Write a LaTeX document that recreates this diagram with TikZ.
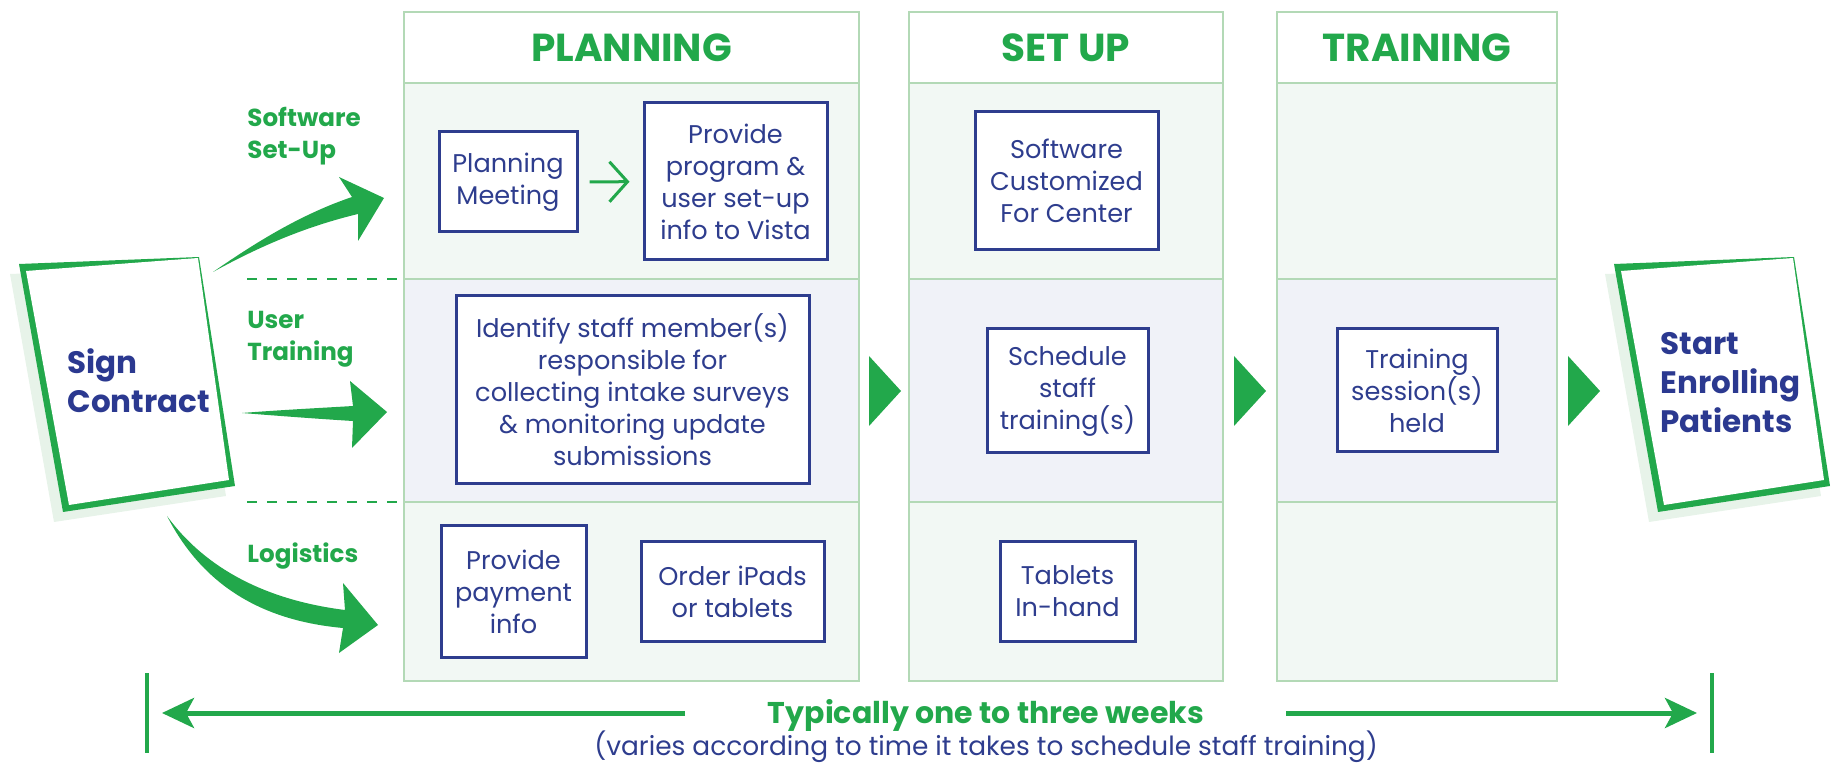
\documentclass[tikz,border=0pt]{standalone}
\usepackage{fontspec}
\setmainfont{Poppins}
\usetikzlibrary{arrows.meta}
\definecolor{grn}{HTML}{22A84B}
\definecolor{navy}{HTML}{2B3990}
\definecolor{boxblue}{HTML}{2E3D8E}
\definecolor{colline}{HTML}{B3D9B6}
\definecolor{rowg}{HTML}{F2F8F4}
\definecolor{rowb}{HTML}{F0F2F8}
\definecolor{cardshade}{HTML}{E7F3E9}
\begin{document}
\begin{tikzpicture}[x=0.5pt,y=-0.5pt,
  taskbox/.style={draw=boxblue,line width=1.5pt,fill=white,align=center,text=boxblue,
    font=\fontsize{12.8}{16}\selectfont,inner sep=0pt},
  header/.style={text=grn,font=\fontsize{19.5}{22}\selectfont\bfseries},
  lanelabel/.style={text=grn,font=\fontsize{12.3}{16}\selectfont\bfseries,align=left,anchor=base west,inner sep=0pt},
  bigtext/.style={text=navy,font=\fontsize{15.5}{19.5}\selectfont\bfseries,align=left,anchor=base west,inner sep=0pt},
  flowtri/.style={fill=grn},
  spanline/.style={grn,line width=2.5pt,-{Stealth[length=16pt,width=15pt,inset=4pt]}},
]
\useasboundingbox (0,0) rectangle (1834,763);

% columns
\foreach \l/\r in {404/859,909/1223,1277/1557}{
  \fill[white] (\l,12) rectangle (\r,83);
  \fill[rowg] (\l,83) rectangle (\r,279);
  \fill[rowb] (\l,279) rectangle (\r,502);
  \fill[rowg] (\l,502) rectangle (\r,681);
  \draw[colline,line width=1pt] (\l,12) rectangle (\r,681)
    (\l,83) -- (\r,83) (\l,279) -- (\r,279) (\l,502) -- (\r,502);
}
\node[header] (hplan) at (631.5,48) {PLANNING};
\node[header] (hset) at (1066,48) {SET UP};
\node[header] (htrain) at (1417,48) {TRAINING};

% dashed lane separators
\draw[grn,line width=1pt,dash pattern=on 5pt off 5pt] (247,279) -- (404,279);
\draw[grn,line width=1pt,dash pattern=on 5pt off 5pt] (247,502) -- (404,502);

% Sign contract card
\fill[cardshade] (10,274) -- (190,267) -- (226,496) -- (54,522) -- cycle;
\fill[grn] (19,264) -- (199,257) -- (235,486) -- (63,512) -- cycle;
\fill[white] (26,271) -- (198,258) -- (229,480) -- (69,505) -- cycle;
\node[bigtext] (sign) at (67,413) {Sign\\Contract};

% Start enrolling card
\fill[cardshade] (1605,274) -- (1785,267) -- (1821,496) -- (1649,522) -- cycle;
\fill[grn] (1614,264) -- (1794,257) -- (1830,486) -- (1658,512) -- cycle;
\fill[white] (1621,271) -- (1793,258) -- (1824,480) -- (1664,505) -- cycle;
\node[bigtext] (start) at (1660,433) {Start\\Enrolling\\Patients};

% lane labels
\node[lanelabel] (lsw) at (247,159) {Software\\Set-Up};
\node[lanelabel] (lut) at (247,361) {User\\Training};
\node[lanelabel] (llog) at (247,562) {Logistics};

% tapered arrows
\fill[grn] (213,272) .. controls (262,238) and (305,213) .. (352,197) -- (339,177) -- (384,198)
  -- (358,241) -- (358,214) .. controls (308,226) and (262,245) .. (213,272) -- cycle;
\fill[grn] (242,413) .. controls (280,410) and (320,408) .. (353,406) -- (350,381) -- (387,412)
  -- (352,448) -- (353,421) .. controls (320,419) and (280,416) .. (242,413) -- cycle;
\fill[grn] (167,516) .. controls (205,568) and (265,600) .. (345,610) -- (343,583) -- (378,625)
  -- (339,653) -- (343,628) .. controls (255,620) and (200,580) .. (167,516) -- cycle;

% task boxes
\node[taskbox,minimum width=69pt,minimum height=50pt] (pm) at (508,182) {Planning\\Meeting};
\node[taskbox,minimum width=91.5pt,minimum height=78.5pt] (pp) at (735.5,181.5) {Provide\\program \&\\user set-up\\info to Vista};
\node[taskbox,minimum width=176.5pt,minimum height=94pt] (id) at (632.5,390) {Identify staff member(s)\\responsible for\\collecting intake surveys\\\& monitoring update\\submissions};
\node[taskbox,minimum width=72.5pt,minimum height=65.5pt] (pay) at (513.5,591.5) {Provide\\payment\\info};
\node[taskbox,minimum width=91.5pt,minimum height=49.5pt] (ipad) at (732.5,591.5) {Order iPads\\or tablets};
\node[taskbox,minimum width=91.5pt,minimum height=69pt] (soft) at (1066.5,181) {Software\\Customized\\For Center};
\node[taskbox,minimum width=80.5pt,minimum height=62pt] (sched) at (1067.5,391) {Schedule\\staff\\training(s)};
\node[taskbox,minimum width=67.5pt,minimum height=49.5pt] (tab) at (1067.5,591.5) {Tablets\\In-hand};
\node[taskbox,minimum width=80pt,minimum height=61.5pt] (sess) at (1417,390.5) {Training\\session(s)\\held};

\draw[grn,line width=1.5pt,-{Straight Barb[length=9pt,width=20pt]},shorten <=5.5pt,shorten >=6.5pt] (pm) -- (pp);

% flow triangles
\fill[flowtri] (869,356) -- (901,391) -- (869,426) -- cycle;
\fill[flowtri] (1234,356) -- (1266,391) -- (1234,426) -- cycle;
\fill[flowtri] (1568,356) -- (1600,391) -- (1568,426) -- cycle;

% time span
\coordinate (lgap) at (685,713);
\coordinate (rgap) at (1286,713);
\coordinate (ltip) at (162,713);
\coordinate (rtip) at (1697,713);
\draw[grn,line width=1.6pt] (147,673) -- (147,753);
\draw[grn,line width=1.6pt] (1712,673) -- (1712,753);
\draw[spanline] (lgap) -- (ltip);
\draw[spanline] (rgap) -- (rtip);
\node[text=grn,font=\fontsize{15}{18}\selectfont\bfseries,anchor=base,inner sep=0pt] (typ) at (986,723) {Typically one to three weeks};
\node[text=boxblue,font=\fontsize{13.2}{15}\selectfont,anchor=base,inner sep=0pt] (var) at (986,755) {(varies according to time it takes to schedule staff training)};
\end{tikzpicture}
\end{document}
